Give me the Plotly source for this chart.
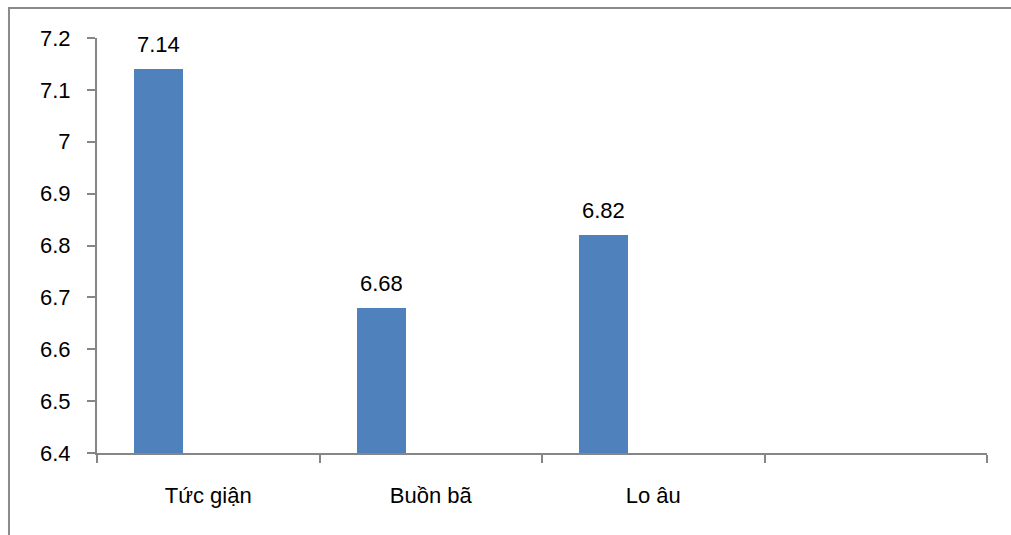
import plotly.graph_objects as go

# Emotion categories and their mean scores
categories = ["Tức giận", "Buồn bã", "Lo âu", ""]
scores = [7.14, 6.68, 6.82]
y_ticks = [6.4, 6.5, 6.6, 6.7, 6.8, 6.9, 7.0, 7.1, 7.2]
y_tick_labels = ["6.4", "6.5", "6.6", "6.7", "6.8", "6.9", "7", "7.1", "7.2"]

FONT = "Liberation Sans"
BAR_COLOR = "#4f81bd"
AXIS_COLOR = "#868686"

# bars sit in the first slot of each category band
bar_offset = -0.222
bar_width = 0.22
bar_x = [i + bar_offset for i in range(len(scores))]

fig = go.Figure()
fig.add_trace(go.Bar(
    x=bar_x,
    y=scores,
    width=bar_width,
    marker=dict(color=BAR_COLOR, line=dict(width=0)),
    base=6.4,
    hoverinfo="skip",
))
# bar heights are measured from the axis floor
fig.data[0].y = [v - 6.4 for v in scores]

annotations = []
for x, v in zip(bar_x, scores):
    annotations.append(dict(
        x=x, y=v, xref="x", yref="y", text=f"{v:g}", showarrow=False,
        yanchor="bottom", yshift=10,
        font=dict(family=FONT, size=22, color="#000000"),
    ))

fig.update_layout(
    width=1011,
    height=535,
    margin=dict(l=97, r=24, t=38, b=82),
    paper_bgcolor="#ffffff",
    plot_bgcolor="#ffffff",
    showlegend=False,
    bargap=0,
    annotations=annotations,
    xaxis=dict(
        range=[-0.5, 3.5],
        tickvals=list(range(len(categories))),
        ticktext=categories,
        ticks="",
        ticklabelstandoff=22,
        showgrid=False,
        zeroline=False,
        showline=True,
        linecolor=AXIS_COLOR,
        linewidth=2,
        tickfont=dict(family=FONT, size=22, color="#000000"),
        minor=dict(
            tick0=0.5, dtick=1, ticks="outside", ticklen=8,
            tickwidth=2, tickcolor=AXIS_COLOR, showgrid=False,
        ),
        fixedrange=True,
    ),
    yaxis=dict(
        range=[6.4, 7.2],
        tickvals=y_ticks,
        ticktext=y_tick_labels,
        ticks="outside",
        ticklen=8,
        tickwidth=2,
        tickcolor=AXIS_COLOR,
        ticklabelstandoff=12,
        showgrid=False,
        zeroline=False,
        showline=True,
        linecolor=AXIS_COLOR,
        linewidth=2,
        tickfont=dict(family=FONT, size=22, color="#000000"),
        fixedrange=True,
    ),
    shapes=[
        # outer chart frame (left and top edges)
        dict(
            type="path", xref="paper", yref="paper",
            path="M -0.0989,-0.3 L -0.0989,1.0723 L 1.1,1.0723",
            line=dict(color="#8a8a8a", width=2),
        ),
    ],
)

fig.write_html("out.html")
